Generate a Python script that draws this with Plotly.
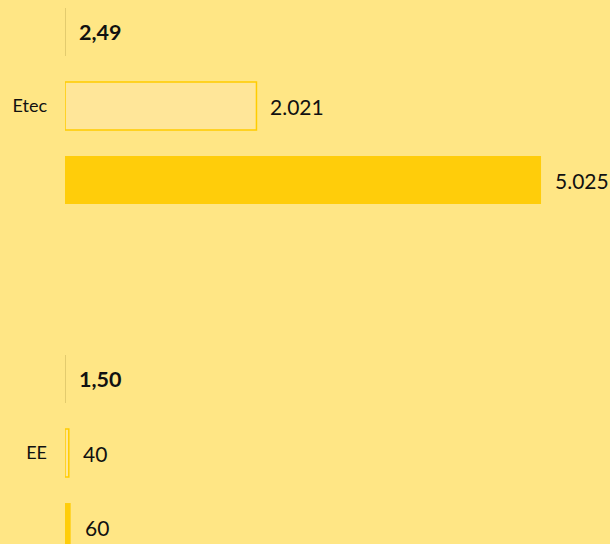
import plotly.graph_objects as go

categories = ["Etec", "EE"]
ratio_values = [2.49, 1.50]
light_values = [2021, 40]
dark_values = [5025, 60]

BG = "#FFE685"
LIGHT_FILL = "#FFE699"
LIGHT_LINE = "#FFCC00"
DARK_FILL = "#FFCD0A"
RATIO_COLOR = "#E3CB6E"
TEXT = "#111111"

step = 0.2133
bw = 0.1383

def fmt_int(v):
    return f"{v:,.0f}".replace(",", ".")

def fmt_ratio(v):
    return f"{v:.2f}".replace(".", ",")

fig = go.Figure()
fig.add_trace(go.Bar(y=categories, x=ratio_values, orientation="h",
                     marker=dict(color=RATIO_COLOR, line=dict(width=0)),
                     width=bw, offset=-step - bw / 2, hoverinfo="skip"))
fig.add_trace(go.Bar(y=categories, x=light_values, orientation="h",
                     marker=dict(color=LIGHT_FILL, line=dict(color=LIGHT_LINE, width=1.5)),
                     width=bw, offset=-bw / 2, hoverinfo="skip"))
fig.add_trace(go.Bar(y=categories, x=dark_values, orientation="h",
                     marker=dict(color=DARK_FILL, line=dict(width=0)),
                     width=bw, offset=step - bw / 2, hoverinfo="skip"))

annotations = []
for i, cat in enumerate(categories):
    annotations.append(dict(x=ratio_values[i], y=i - step, text="<b>" + fmt_ratio(ratio_values[i]) + "</b>",
                            xanchor="left", yanchor="middle", xshift=12, showarrow=False,
                            font=dict(family="Lato", size=21.5, color=TEXT)))
    annotations.append(dict(x=light_values[i], y=i, text=fmt_int(light_values[i]),
                            xanchor="left", yanchor="middle", xshift=12, showarrow=False,
                            font=dict(family="Lato", size=21, color=TEXT)))
    annotations.append(dict(x=dark_values[i], y=i + step, text=fmt_int(dark_values[i]),
                            xanchor="left", yanchor="middle", xshift=12, showarrow=False,
                            font=dict(family="Lato", size=21, color=TEXT)))

fig.update_layout(
    width=610, height=544,
    margin=dict(l=65, r=0, t=0, b=0),
    paper_bgcolor=BG, plot_bgcolor=BG,
    barmode="overlay",
    showlegend=False,
    annotations=annotations,
    xaxis=dict(range=[0, 5753], visible=False, fixedrange=True),
    yaxis=dict(type="category", range=[1.2622, -0.3055], showgrid=False, zeroline=False,
               showline=False, ticks="", ticklabelstandoff=17,
               tickfont=dict(family="Lato", size=18, color=TEXT), fixedrange=True),
)

fig.write_html("out.html", config={"displayModeBar": False},
               post_script="document.body.style.margin='0';document.body.style.overflow='hidden';")
